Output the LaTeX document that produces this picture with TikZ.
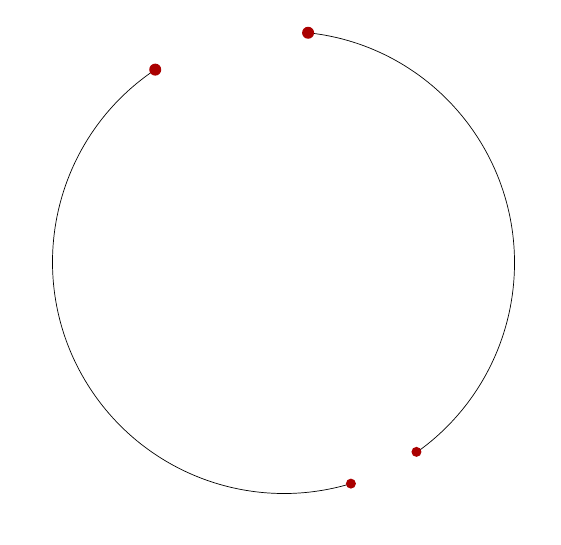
\documentclass[tikz,border=0pt]{standalone}
\usetikzlibrary{calc}
\definecolor{dotred}{RGB}{170,0,0}
\begin{document}
\begin{tikzpicture}[x=1pt,y=-1pt,
  bigdot/.style={circle,fill=dotred,inner sep=0pt,minimum size=12pt},
  smalldot/.style={circle,fill=dotred,inner sep=0pt,minimum size=10pt},
  arcline/.style={line width=0.7pt,black}]
\useasboundingbox (0,0) rectangle (561,544);
\coordinate (c) at (284,262);
\coordinate (p1) at ($(c)+(84:230.5pt)$);
\coordinate (p2) at ($(c)+(123.8:231.5pt)$);
\coordinate (p3) at ($(c)+(-55.1:231.5pt)$);
\coordinate (p4) at ($(c)+(-73.2:231.5pt)$);
\draw[arcline] (p1) arc[start angle=84, end angle=-55.1, x radius=230.5pt, y radius=231.5pt];
\draw[arcline] (p2) arc[start angle=123.8, end angle=286.8, radius=231.5pt];
\node[bigdot] (a) at (p1) {};
\node[bigdot] (b) at (p2) {};
\node[smalldot] (d) at (p3) {};
\node[smalldot] (e) at (p4) {};
\end{tikzpicture}
\end{document}
